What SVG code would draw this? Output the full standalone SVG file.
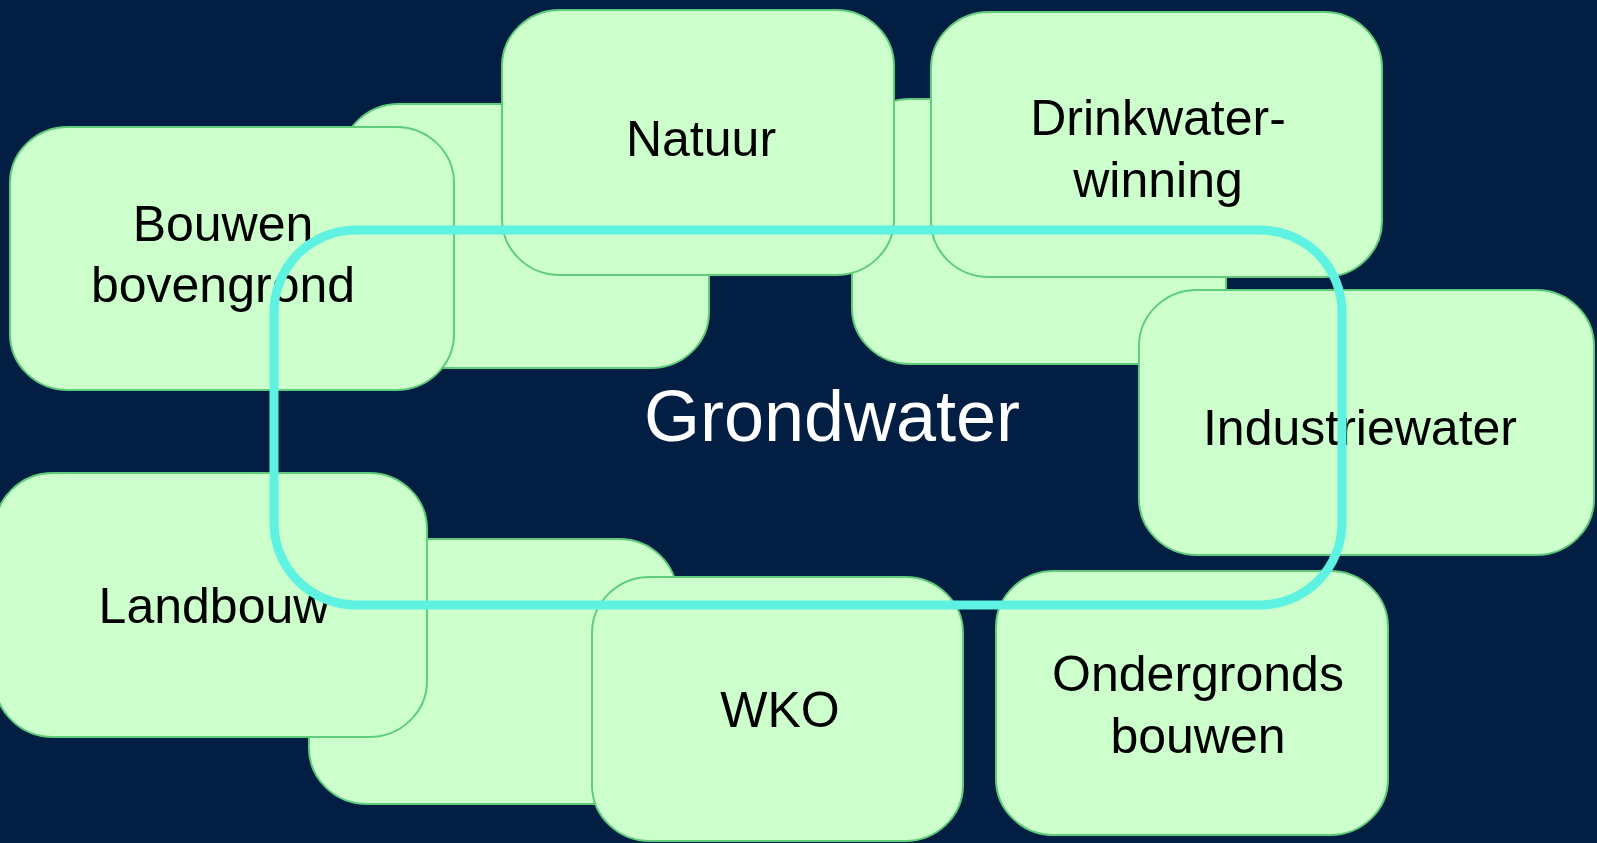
<svg xmlns="http://www.w3.org/2000/svg" width="1597" height="843" viewBox="0 0 1597 843">
<style>
.box{fill:#CCFFCC;stroke:#5FCC7B;stroke-width:2}
.lbl{font-family:"Liberation Sans",Arial,sans-serif;font-size:50px;fill:#000;text-anchor:middle}
.title{font-family:"Liberation Sans",Arial,sans-serif;font-size:72px;fill:#FFFFFF;text-anchor:middle}
</style>
<rect x="0" y="0" width="1597" height="843" fill="#021E42"/>
<g id="back1"><rect class="box" x="341" y="104" width="368" height="264" rx="58" ry="56"/></g>
<g id="back2"><rect class="box" x="852" y="99" width="374" height="265" rx="58" ry="56"/></g>
<g id="back3"><rect class="box" x="309" y="539" width="368" height="265" rx="58" ry="56"/></g>
<g id="bouwen">
<rect class="box" x="10" y="127" width="444" height="263" rx="58" ry="56"/>
<text class="lbl" x="223" y="241">Bouwen</text>
<text class="lbl" x="223" y="302">bovengrond</text>
</g>
<g id="natuur">
<rect class="box" x="502" y="10" width="392" height="265" rx="58" ry="56"/>
<text class="lbl" x="701" y="156">Natuur</text>
</g>
<g id="drinkwater">
<rect class="box" x="931" y="12" width="451" height="265" rx="58" ry="56"/>
<text class="lbl" x="1158" y="135">Drinkwater-</text>
<text class="lbl" x="1158" y="197">winning</text>
</g>
<g id="industriewater">
<rect class="box" x="1139" y="290" width="455" height="265" rx="58" ry="56"/>
<text class="lbl" x="1360" y="445">Industriewater</text>
</g>
<g id="landbouw">
<rect class="box" x="-5" y="473" width="432" height="264" rx="58" ry="56"/>
<text class="lbl" x="214" y="623">Landbouw</text>
</g>
<g id="wko">
<rect class="box" x="592" y="577" width="371" height="264" rx="58" ry="56"/>
<text class="lbl" x="780" y="727">WKO</text>
</g>
<g id="ondergronds">
<rect class="box" x="996" y="571" width="392" height="264" rx="58" ry="56"/>
<text class="lbl" x="1198" y="691">Ondergronds</text>
<text class="lbl" x="1198" y="753">bouwen</text>
</g>
<g id="grondwater">
<text class="title" x="832" y="441">Grondwater</text>
</g>
<g id="connectors">
<rect x="274" y="230" width="1068" height="375" rx="82" ry="82" fill="none" stroke="#5DF2E1" stroke-width="9"/>
</g>
</svg>
